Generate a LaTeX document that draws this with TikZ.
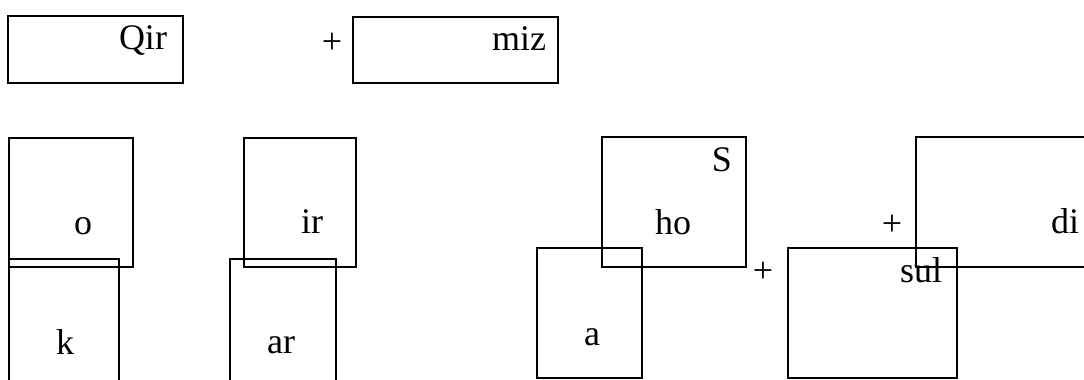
\documentclass[tikz,border=0pt]{standalone}
\usepackage{fontspec}
\setmainfont{Liberation Serif}
\begin{document}
\begin{tikzpicture}[x=1pt, y=-1pt,
	wordbox/.style={draw, line width=2.6pt},
	lbl/.style={inner sep=0pt, anchor=base, font=\fontsize{36}{42}\selectfont},
	plus/.style={inner sep=0pt, anchor=center, font=\fontsize{36}{42}\selectfont}]
	\clip (0,0) rectangle (1084,380);
	
	% Верхний ряд
	\draw[wordbox] (8,16) rectangle (183,83);
	\node[lbl] (qir) at (143,49) {Qir};
	\node[plus] (plusA) at (332,43) {+};
	\draw[wordbox] (353,17) rectangle (558,83);
	\node[lbl] (miz) at (519,50) {miz};
	
	% Левые пары
	\draw[wordbox] (9,138) rectangle (133,267);
	\node[lbl] (o) at (83,234) {o};
	\draw[wordbox] (9,259) rectangle (119,400);
	\node[lbl] (k) at (65,354) {k};
	\draw[wordbox] (244,138) rectangle (356,267);
	\node[lbl] (ir) at (312,233) {ir};
	\draw[wordbox] (230,259) rectangle (336,400);
	\node[lbl] (ar) at (281,353) {ar};
	
	% Правая группа
	\draw[wordbox] (602,137) rectangle (746,267);
	\node[lbl] (S) at (722,171) {S};
	\node[lbl] (ho) at (673,234) {ho};
	\draw[wordbox] (537,248) rectangle (642,378);
	\node[lbl] (a) at (592,345) {a};
	\node[plus] (plusB) at (763,272) {+};
	\draw[wordbox] (788,248) rectangle (957,378);
	\node[lbl] (sul) at (921,282) {sul};
	\node[plus] (plusC) at (892,225) {+};
	\draw[wordbox] (916,137) rectangle (1100,267);
	\node[lbl] (di) at (1065,233) {di};
\end{tikzpicture}
\end{document}
